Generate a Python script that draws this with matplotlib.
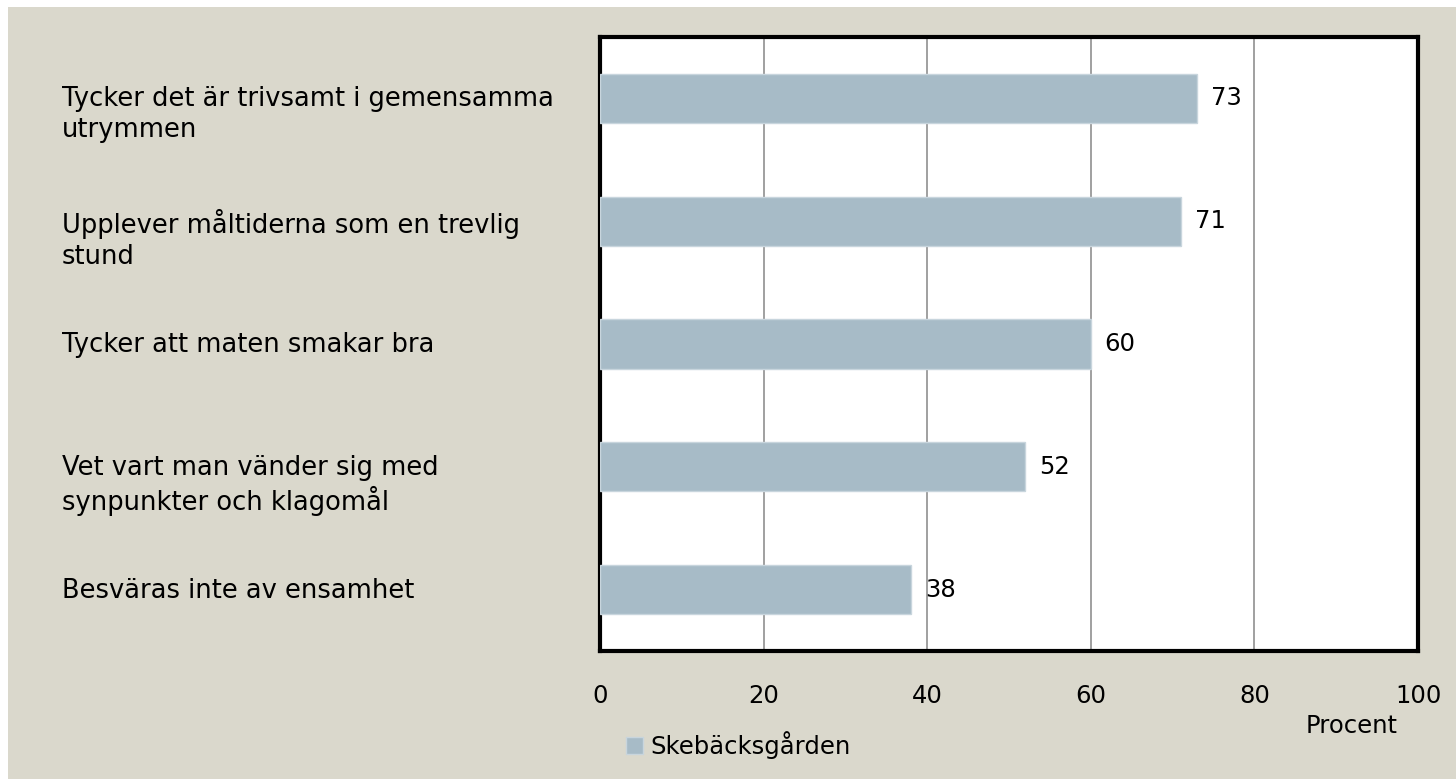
import numpy as np
import matplotlib.pyplot as plt
import matplotlib.transforms as mtransforms
from matplotlib.patches import Rectangle

'''
horisontellt stapeldiagram, Skebäcksgården
'''

categories = ["Tycker det är trivsamt i gemensamma\nutrymmen",
              "Upplever måltiderna som en trevlig\nstund",
              "Tycker att maten smakar bra",
              "Vet vart man vänder sig med\nsynpunkter och klagomål",
              "Besväras inte av ensamhet"]
values = [73, 71, 60, 52, 38]
xticks = [0, 20, 40, 60, 80, 100]
series_name = "Skebäcksgården"

bg = "#DAD8CC"
bar_color = "#A7BBC7"
fs = 17.5       # siffror
fs_lab = 18.5   # kategorier

plt.rcParams['font.family'] = ['DejaVu Sans']

fig = plt.figure(figsize=(14.56, 7.79), dpi=100)
fig.patch.set_facecolor("white")
# beige background, white strip at top and left
fig.patches.append(Rectangle((8/1456, 0), 1 - 8/1456, 1 - 7/779,
                             transform=fig.transFigure, facecolor=bg,
                             edgecolor="none", zorder=-10))

ax = fig.add_axes([600/1456, 128/779, 818/1456, 614/779])
ax.set_facecolor("white")

y = np.arange(len(values))
bars = ax.barh(y, values, height=0.4, color=bar_color, edgecolor="#C8D5DD",
               linewidth=1, zorder=3, label=series_name)
ax.set_ylim(len(values) - 0.5, -0.5)
ax.set_xlim(0, 100)
ax.set_xticks(xticks)
ax.set_xticklabels([str(t) for t in xticks], fontsize=fs)
ax.tick_params(axis="x", length=0, pad=24)
ax.set_yticks([])
ax.grid(axis="x", color="#999999", linewidth=1.3, zorder=0)
ax.set_axisbelow(True)
for s in ax.spines.values():
    s.set_linewidth(3)
    s.set_color("black")

for yi, v in zip(y, values):
    ax.text(v + 1.7, yi, str(v), va="center", ha="left", fontsize=fs)

# category labels, left-aligned in figure space
trans = mtransforms.blended_transform_factory(fig.transFigure, ax.transData)
off = mtransforms.ScaledTranslation(0, 12/100, fig.dpi_scale_trans)
for yi, c in zip(y, categories):
    ax.text(62/1456, yi, c, transform=trans + off, va="top", ha="left",
            fontsize=fs_lab, linespacing=1.22)

fig.text(1352/1456, 1 - 726/779, "Procent", ha="center", va="center", fontsize=fs)

fig.legend(handles=[bars], labels=[series_name], loc="center left",
           bbox_to_anchor=(604/1456, 1 - 745/779), frameon=False,
           fontsize=fs, handlelength=0.7, handleheight=0.7, handletextpad=0.3)

fig.savefig("out.png", dpi=100, facecolor=fig.get_facecolor())
